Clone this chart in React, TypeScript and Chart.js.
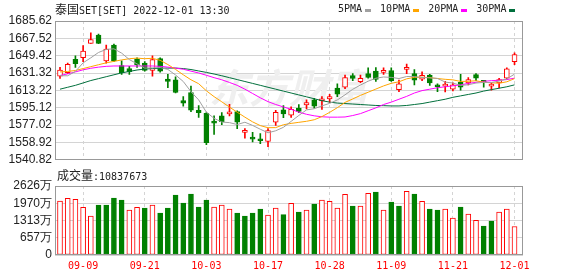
import React, { useEffect, useRef } from "react";
import { Chart, registerables } from "chart.js";

Chart.register(...registerables);

const dates = [
  "09-06", "09-07", "09-08", "09-09", "09-12", "09-13", "09-14", "09-15", "09-16", "09-19",
  "09-20", "09-21", "09-22", "09-23", "09-26", "09-27", "09-28", "09-29", "09-30", "10-03",
  "10-04", "10-05", "10-06", "10-07", "10-10", "10-11", "10-12", "10-17", "10-18", "10-19",
  "10-20", "10-21", "10-25", "10-26", "10-27", "10-28", "10-31", "11-01", "11-02", "11-03",
  "11-04", "11-07", "11-08", "11-09", "11-10", "11-11", "11-14", "11-15", "11-16", "11-17",
  "11-18", "11-21", "11-22", "11-23", "11-24", "11-25", "11-28", "11-29", "11-30", "12-01",
];
const tickDates = ["09-09", "09-21", "10-03", "10-17", "10-28", "11-09", "11-21", "12-01"];

const opens = [
  1628.0, 1631.7, 1645.7, 1647.3, 1662.3, 1671.0, 1644.0, 1660.6, 1639.0, 1636.0,
  1646.0, 1641.7, 1634.0, 1646.3, 1625.0, 1624.3, 1602.7, 1611.0, 1592.4, 1589.4,
  1579.7, 1586.7, 1588.7, 1591.0, 1569.4, 1563.7, 1562.4, 1560.1, 1580.0, 1593.0,
  1587.4, 1594.7, 1598.0, 1603.4, 1602.4, 1604.4, 1615.7, 1616.7, 1628.7, 1622.4,
  1630.7, 1633.3, 1632.0, 1634.0, 1614.0, 1635.0, 1630.7, 1625.0, 1629.3, 1617.7,
  1617.7, 1614.4, 1621.7, 1621.0, 1629.7, 1622.4, 1617.7, 1621.0, 1626.0, 1643.3,
];
const highs = [
  1637.3, 1641.7, 1649.3, 1660.0, 1673.3, 1672.0, 1660.6, 1661.6, 1644.0, 1638.3,
  1647.3, 1643.3, 1649.3, 1647.3, 1630.0, 1627.3, 1606.7, 1617.7, 1597.4, 1590.0,
  1586.7, 1590.0, 1598.7, 1592.0, 1573.4, 1569.4, 1568.1, 1573.4, 1592.4, 1597.4,
  1596.0, 1598.4, 1603.4, 1605.0, 1606.7, 1609.0, 1620.0, 1629.3, 1630.7, 1629.3,
  1636.7, 1637.0, 1636.7, 1636.7, 1624.0, 1640.7, 1635.0, 1632.7, 1630.0, 1620.0,
  1622.7, 1621.0, 1630.0, 1626.7, 1630.7, 1623.4, 1621.0, 1625.7, 1636.7, 1652.3,
];
const lows = [
  1625.7, 1630.7, 1637.3, 1643.3, 1662.3, 1662.0, 1641.7, 1643.3, 1630.0, 1630.0,
  1637.3, 1633.3, 1628.0, 1632.3, 1616.0, 1610.7, 1596.7, 1591.0, 1585.0, 1556.7,
  1567.4, 1577.4, 1586.7, 1573.4, 1563.4, 1559.4, 1557.7, 1554.4, 1576.7, 1584.7,
  1585.0, 1590.0, 1594.0, 1594.7, 1593.4, 1600.7, 1606.7, 1615.0, 1623.4, 1621.4,
  1626.0, 1622.7, 1630.0, 1622.7, 1612.0, 1630.7, 1619.0, 1623.4, 1618.4, 1612.0,
  1611.7, 1612.7, 1613.4, 1619.0, 1623.4, 1616.7, 1613.4, 1615.7, 1625.0, 1640.0,
];
const closes = [
  1634.3, 1640.3, 1641.0, 1654.3, 1666.3, 1662.3, 1656.3, 1644.0, 1631.7, 1632.7,
  1640.0, 1634.0, 1645.3, 1633.3, 1622.7, 1611.0, 1600.0, 1592.7, 1590.0, 1558.7,
  1579.0, 1580.7, 1589.7, 1580.0, 1570.7, 1562.4, 1560.7, 1571.4, 1590.4, 1588.7,
  1593.4, 1591.4, 1600.4, 1596.7, 1603.4, 1606.7, 1609.4, 1626.7, 1625.7, 1625.7,
  1626.7, 1624.7, 1633.3, 1623.4, 1620.0, 1637.3, 1624.0, 1629.0, 1621.0, 1617.0,
  1618.4, 1619.0, 1616.7, 1624.4, 1626.0, 1621.7, 1618.4, 1624.4, 1635.7, 1650.7,
];

const ma5 = [
  1628.5, 1628.5, 1633.0, 1642.0, 1647.2, 1652.8, 1656.0, 1656.6, 1652.1, 1645.4,
  1640.9, 1636.5, 1636.7, 1637.1, 1635.1, 1629.3, 1622.5, 1611.9, 1603.3, 1590.5,
  1584.1, 1580.2, 1579.6, 1577.6, 1580.0, 1576.7, 1572.7, 1569.0, 1571.1, 1574.7,
  1580.9, 1587.1, 1592.9, 1594.1, 1597.1, 1599.7, 1603.3, 1608.6, 1614.4, 1618.8,
  1622.8, 1625.9, 1627.2, 1626.8, 1625.6, 1627.7, 1627.6, 1626.7, 1626.3, 1625.7,
  1621.9, 1620.9, 1618.4, 1619.1, 1620.9, 1621.6, 1621.4, 1623.0, 1625.2, 1630.2,
];
const ma10 = [
  1632.5, 1633.0, 1634.0, 1636.0, 1638.0, 1640.0, 1642.0, 1643.5, 1645.0, 1646.3,
  1646.9, 1646.3, 1646.7, 1644.6, 1640.2, 1635.1, 1629.5, 1624.3, 1620.2, 1612.8,
  1606.7, 1601.3, 1595.8, 1590.5, 1585.3, 1580.4, 1576.5, 1574.3, 1574.4, 1577.4,
  1578.8, 1579.9, 1581.0, 1582.6, 1585.9, 1590.3, 1595.2, 1600.7, 1604.3, 1608.0,
  1611.3, 1614.6, 1617.9, 1620.6, 1622.2, 1625.3, 1626.8, 1627.0, 1626.5, 1625.6,
  1624.8, 1624.2, 1622.6, 1622.7, 1623.3, 1621.7, 1621.2, 1620.7, 1622.2, 1625.5,
];
const ma20 = [
  1628.7, 1630.5, 1632.5, 1634.7, 1636.3, 1637.5, 1638.3, 1638.7, 1638.7, 1638.7,
  1638.7, 1638.7, 1638.7, 1638.3, 1637.5, 1636.5, 1635.3, 1633.3, 1631.4, 1629.0,
  1626.5, 1624.3, 1621.5, 1618.5, 1614.5, 1610.0, 1605.5, 1601.5, 1598.5, 1596.0,
  1593.5, 1590.5, 1588.3, 1586.7, 1585.7, 1585.3, 1585.3, 1585.5, 1587.0, 1589.0,
  1592.0, 1595.0, 1598.5, 1601.0, 1604.0, 1607.0, 1610.5, 1613.0, 1614.5, 1616.0,
  1617.0, 1618.0, 1619.0, 1620.5, 1621.7, 1622.7, 1623.4, 1623.8, 1624.5, 1626.0,
];
const ma30 = [
  1614.5, 1616.5, 1618.5, 1621.0, 1623.5, 1625.5, 1627.5, 1629.5, 1631.5, 1633.0,
  1634.5, 1635.5, 1636.0, 1636.3, 1636.5, 1636.5, 1636.0, 1635.0, 1633.5, 1632.0,
  1630.3, 1628.5, 1626.5, 1624.5, 1622.5, 1620.5, 1618.5, 1616.5, 1614.5, 1612.5,
  1610.5, 1608.5, 1606.5, 1604.5, 1602.5, 1601.0, 1600.0, 1599.5, 1599.0, 1598.5,
  1598.0, 1597.5, 1597.3, 1597.0, 1597.0, 1597.5, 1598.5, 1599.5, 1601.0, 1602.5,
  1604.0, 1606.0, 1607.5, 1609.0, 1610.5, 1612.5, 1614.0, 1615.5, 1617.0, 1619.0,
];

// volume in 万
const volumes = [
  2055, 2157, 2119, 1814, 1484, 1903, 1903, 2170, 2094, 1713,
  1814, 1789, 1903, 1599, 1789, 2284, 1980, 2322, 1827, 2094,
  1827, 1903, 1751, 1599, 1484, 1599, 1751, 1523, 1789, 1535,
  1967, 1637, 1713, 1942, 2094, 2043, 1789, 2310, 1865, 1865,
  2348, 2398, 1713, 2018, 1865, 2424, 2322, 2043, 1751, 1713,
  1751, 1409, 1827, 1561, 1320, 1104, 1294, 1637, 1751, 1084,
];
const volUp = [
  1, 1, 1, 1, 1, 0, 0, 0, 0, 1,
  1, 0, 1, 0, 0, 0, 0, 0, 0, 0,
  1, 1, 1, 0, 0, 0, 0, 1, 1, 0,
  1, 0, 1, 0, 1, 1, 1, 1, 0, 1,
  1, 0, 1, 0, 0, 1, 0, 1, 0, 0,
  1, 1, 0, 1, 1, 0, 0, 1, 1, 1,
];

const priceTicks = [1540.82, 1558.92, 1577.02, 1595.12, 1613.22, 1631.32, 1649.42, 1667.52, 1685.62];
const volTicks = [0, 656.5, 1313, 1969.5, 2626];
const maNames = ["5PMA", "10PMA", "20PMA", "30PMA"];
const maColors = ["#a0a0a0", "#ffa500", "#ff00ff", "#006f3c"];
const titleCn = "泰国";
const titleRest = "SET[SET] 2022-12-01 13:30";
const volTitleCn = "成交量";
const volTitleRest = ":10837673";
const watermark = "东方财富";

const RED = "#ff0000";
const GREEN = "#008000";
const GRID = "#d4d4d4";
const FRAME = "#999999";
const TEXT = "#222222";
const MONO = "'DejaVu Sans Mono', monospace";
const CJK = "'Noto Sans CJK SC', sans-serif";

const framePlugin = {
  id: "frame",
  afterDraw(chart: any) {
    const { ctx, chartArea: a } = chart;
    ctx.save();
    ctx.strokeStyle = FRAME;
    ctx.lineWidth = 1;
    ctx.strokeRect(Math.round(a.left) + 0.5, Math.round(a.top) + 0.5, Math.round(a.width) - 1, Math.round(a.height) - 1);
    ctx.restore();
  },
};

const watermarkPlugin = {
  id: "watermark",
  beforeDatasetsDraw(chart: any) {
    const { ctx, chartArea: a } = chart;
    ctx.save();
    ctx.font = `italic bold 40px ${CJK}`;
    ctx.fillStyle = "#efefef";
    ctx.textAlign = "center";
    ctx.textBaseline = "middle";
    ctx.fillText(watermark, a.left + a.width * 0.5, a.top + a.height * 0.48);
    ctx.restore();
  },
};

export default function App() {
  const pRef = useRef<HTMLCanvasElement>(null);
  const vRef = useRef<HTMLCanvasElement>(null);

  useEffect(() => {
    const idx = dates.map((_, i) => i);
    const tickIdx = tickDates.map((d) => dates.indexOf(d));
    const up = idx.map((i) => closes[i] >= opens[i]);

    const makeX = (labels: boolean): any => ({
      type: "linear",
      min: -0.65,
      max: 60.1,
      offset: false,
      afterBuildTicks: (s: any) => {
        s.ticks = tickIdx.map((v) => ({ value: v }));
      },
      afterFit: (s: any) => {
        s.height = labels ? 21 : 0;
      },
      ticks: labels
        ? {
            display: true,
            color: RED,
            font: { family: MONO, size: 10 },
            padding: 5,
            maxRotation: 0,
            autoSkip: false,
            callback: (v: any) => dates[v] ?? "",
          }
        : { display: false },
      grid: { color: GRID, drawTicks: false, offset: false },
      border: { display: false, dash: [3, 3] },
    });

    const makeY = (ticks: number[], fmt: (v: number) => string): any => ({
      type: "linear",
      min: ticks[0],
      max: ticks[ticks.length - 1],
      afterBuildTicks: (s: any) => {
        s.ticks = ticks.map((v) => ({ value: v }));
      },
      afterFit: (s: any) => {
        s.width = 55;
      },
      ticks: {
        color: TEXT,
        font: { family: "'Liberation Sans', Arial, sans-serif", size: 12 },
        padding: 3,
        autoSkip: false,
        callback: (v: any) => fmt(Number(v)),
      },
      grid: { color: GRID, drawTicks: false },
      border: { display: false },
    });

    const price = new Chart(pRef.current!, {
      type: "bar",
      data: {
        datasets: [
          ...[ma5, ma10, ma20, ma30].map((arr, k) => ({
            type: "line" as const,
            label: maNames[k],
            data: idx.map((i) => ({ x: i, y: arr[i] })),
            borderColor: maColors[k],
            borderWidth: 1,
            pointRadius: 0,
            fill: false,
            tension: 0,
            order: 0,
          })),
          {
            type: "bar" as const,
            label: "body",
            data: idx.map((i) => ({ x: i, y: [opens[i], closes[i]] })) as any,
            backgroundColor: idx.map((i) => (up[i] ? "#ffffff" : GREEN)),
            borderColor: idx.map((i) => (up[i] ? RED : GREEN)),
            borderWidth: 1,
            borderSkipped: false,
            barThickness: 5,
            minBarLength: 2,
            grouped: false,
            order: 1,
          },
          {
            type: "bar" as const,
            label: "wick",
            data: idx.map((i) => ({ x: i, y: [lows[i], highs[i]] })) as any,
            backgroundColor: idx.map((i) => (up[i] ? RED : GREEN)),
            borderWidth: 0,
            barThickness: 1,
            grouped: false,
            order: 2,
          },
        ],
      },
      options: {
        animation: false,
        responsive: false,
        devicePixelRatio: 1,
        events: [],
        layout: { padding: { top: 21, right: 55, bottom: 4, left: 0 } },
        plugins: { legend: { display: false }, tooltip: { enabled: false } },
        scales: {
          x: makeX(false),
          y: makeY(priceTicks, (v) => v.toFixed(2)),
        },
      },
      plugins: [watermarkPlugin, framePlugin],
    });

    const vol = new Chart(vRef.current!, {
      type: "bar",
      data: {
        datasets: [
          {
            label: "vol",
            data: idx.map((i) => ({ x: i, y: volumes[i] })) as any,
            backgroundColor: idx.map((i) => (volUp[i] ? "#ffffff" : GREEN)),
            borderColor: idx.map((i) => (volUp[i] ? RED : GREEN)),
            borderWidth: 1,
            borderSkipped: false,
            barThickness: 5,
            grouped: false,
          },
        ],
      },
      options: {
        animation: false,
        responsive: false,
        devicePixelRatio: 1,
        events: [],
        layout: { padding: { top: 16, right: 55, bottom: 0, left: 0 } },
        plugins: { legend: { display: false }, tooltip: { enabled: false } },
        scales: {
          x: makeX(true),
          y: makeY(volTicks, (v) => (v === 0 ? "0" : Math.round(v) + "万")),
        },
      },
      plugins: [framePlugin],
    });

    return () => {
      price.destroy();
      vol.destroy();
    };
  }, []);

  const cjkStyle: React.CSSProperties = { fontFamily: CJK, fontSize: 12 };
  const monoStyle: React.CSSProperties = { fontFamily: MONO, fontSize: 10 };

  return (
    <div style={{ position: "fixed", left: 0, top: 0, width: 578, height: 276, background: "#fff", overflow: "hidden" }}>
      <canvas ref={pRef} width={578} height={170} style={{ position: "absolute", left: 0, top: 0 }} />
      <canvas ref={vRef} width={578} height={106} style={{ position: "absolute", left: 0, top: 170 }} />
      <div style={{ position: "absolute", left: 55, top: 3, height: 12, lineHeight: "12px", whiteSpace: "nowrap", color: TEXT }}>
        <span style={cjkStyle}>{titleCn}</span>
        <span style={monoStyle}>{titleRest}</span>
      </div>
      <div style={{ position: "absolute", left: 338, top: 3, height: 12, lineHeight: "12px", display: "flex", alignItems: "center", whiteSpace: "nowrap", color: TEXT }}>
        {maNames.map((n, k) => (
          <div key={n} style={{ display: "flex", alignItems: "center", marginRight: 9 }}>
            <span style={monoStyle}>{n}</span>
            <span style={{ display: "inline-block", width: 6, height: 3, marginLeft: 3, marginTop: 2, background: maColors[k] }} />
          </div>
        ))}
      </div>
      <div style={{ position: "absolute", left: 57, top: 169, height: 12, lineHeight: "12px", whiteSpace: "nowrap", color: TEXT }}>
        <span style={cjkStyle}>{volTitleCn}</span>
        <span style={monoStyle}>{volTitleRest}</span>
      </div>
    </div>
  );
}
